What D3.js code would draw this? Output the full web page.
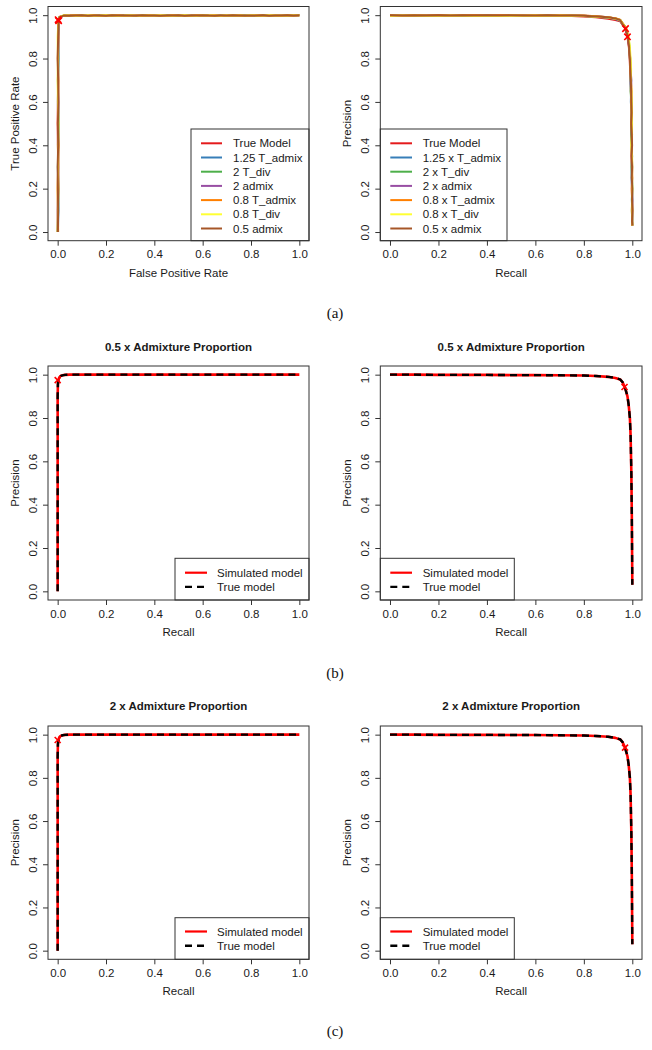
<!DOCTYPE html>
<html><head><meta charset="utf-8">
<script src="https://cdn.jsdelivr.net/npm/d3@7"></script>
<style>body{margin:0;background:#fff}svg{display:block}</style>
</head><body><svg id="c" width="652" height="1050"></svg>
<script>
// ---------------- DATA ----------------
const rocNames = ["True Model","1.25 T_admix","2 T_div","2 admix","0.8 T_admix","0.8 T_div","0.5 admix"];
const prNames  = ["True Model","1.25 x T_admix","2 x T_div","2 x admix","0.8 x T_admix","0.8 x T_div","0.5 x admix"];
const seriesColors = ["#E41A1C","#377EB8","#4DAF4A","#984EA3","#FF7F00","#FFFF33","#A65628"];
const tickValues = [0, 0.2, 0.4, 0.6, 0.8, 1.0];

// (a) left: ROC — steep rise at FPR~0 (TPR grid, FPR per series), then plateau (FPR grid, TPR per series)
const rocRiseTpr = [0, 0.1, 0.2, 0.3, 0.4, 0.5, 0.6, 0.7, 0.8, 0.9, 0.95, 0.975];
const rocRiseFpr = [
  [0.000,0.001,0.000,0.002,0.001,0.000,0.001,0.002,0.001,0.002,0.002,0.003],
  [0.001,0.003,0.002,0.001,0.003,0.002,0.001,0.002,0.003,0.002,0.003,0.004],
  [0.000,0.002,0.003,0.001,0.002,0.004,0.002,0.001,0.003,0.002,0.004,0.004],
  [0.001,0.000,0.002,0.003,0.001,0.002,0.003,0.001,0.002,0.003,0.003,0.005],
  [0.002,0.001,0.003,0.002,0.004,0.001,0.002,0.003,0.001,0.003,0.002,0.004],
  [0.000,0.001,0.000,0.002,0.001,0.003,0.001,0.000,0.001,0.000,0.002,0.003],
  [0.001,0.002,0.001,0.000,0.002,0.001,0.003,0.002,0.000,0.002,0.003,0.004]
];
const rocFlatFpr = [0.008,0.025,0.05,0.075,0.1,0.125,0.15,0.175,0.2,0.225,0.25,0.275,0.3,0.325,0.35,0.375,0.4,0.425,0.45,0.475,0.5,0.525,0.55,0.575,0.6,0.625,0.65,0.675,0.7,0.725,0.75,0.775,0.8,0.825,0.85,0.875,0.9,0.925,0.95,0.975,1.0];
const rocFlatTpr = [
  [0.990,0.998,0.999,0.997,1.000,0.998,0.999,0.997,1.000,0.998,0.999,1.000,0.997,0.999,0.998,1.000,0.998,0.997,0.999,1.000,0.998,0.999,0.997,1.000,0.998,0.999,0.997,0.999,1.000,0.998,0.997,0.999,1.000,0.998,0.999,0.997,1.000,0.999,0.998,0.999,1.000],
  [0.992,0.997,1.000,0.998,0.997,0.999,1.000,0.998,0.997,0.999,0.998,0.997,1.000,0.998,0.999,0.997,1.000,0.999,0.998,0.997,1.000,0.998,0.999,0.998,0.997,1.000,0.999,0.998,0.997,0.999,1.000,0.998,0.997,0.999,1.000,0.998,0.997,0.999,1.000,0.998,1.000],
  [0.991,0.999,0.997,1.000,0.998,0.997,0.999,1.000,0.998,0.997,1.000,0.999,0.998,0.997,1.000,0.999,0.997,0.998,1.000,0.999,0.997,1.000,0.998,0.999,1.000,0.997,0.998,1.000,0.999,0.997,0.998,1.000,0.999,0.997,0.998,1.000,0.999,0.997,0.998,1.000,1.000],
  [0.989,0.998,1.000,0.999,0.997,1.000,0.998,0.999,0.997,1.000,0.998,0.999,0.997,1.000,0.998,0.997,0.999,1.000,0.997,0.998,0.999,0.997,1.000,0.998,0.999,0.997,1.000,0.998,0.999,1.000,0.997,0.998,0.999,1.000,0.997,0.999,0.998,1.000,0.997,0.999,1.000],
  [0.993,0.997,0.999,1.000,0.997,0.998,1.000,0.997,0.999,0.998,1.000,0.997,0.999,0.998,0.997,1.000,0.998,0.999,0.997,1.000,0.999,0.998,0.997,1.000,0.999,0.998,1.000,0.997,0.998,0.999,1.000,0.997,0.998,1.000,0.999,0.998,0.999,0.997,1.000,0.998,1.000],
  [0.990,1.000,0.998,0.997,0.999,1.000,0.997,0.998,1.000,0.999,0.997,0.998,1.000,0.997,0.999,0.998,0.999,1.000,0.998,0.997,0.999,1.000,0.998,0.997,1.000,0.999,0.998,0.997,1.000,0.999,0.998,0.997,1.000,0.999,0.997,1.000,0.998,0.999,0.997,1.000,1.000],
  [0.991,0.998,0.997,0.999,1.000,0.997,0.998,0.999,0.997,1.000,0.999,0.998,0.999,0.997,1.000,0.998,0.999,0.997,0.999,0.998,1.000,0.997,0.999,0.998,1.000,0.998,0.997,0.999,0.998,1.000,0.999,0.997,0.998,0.999,1.000,0.997,0.999,0.998,1.000,0.999,1.000]
];
const rocMarkers = [[0.002, 0.979], [0.004, 0.974]];

// (a) right: PR — plateau (recall grid, precision per series), then steep drop (precision grid, recall per series)
const prHeadRecall = [0,0.05,0.1,0.15,0.2,0.25,0.3,0.35,0.4,0.45,0.5,0.55,0.6,0.65,0.7,0.75,0.8,0.85,0.9,0.93,0.95,0.96];
const prHeadPrecision = [
  [1.000,0.999,0.998,0.999,1.000,0.999,0.998,0.999,0.998,0.997,0.996,0.998,0.997,0.998,0.997,0.996,0.994,0.990,0.984,0.978,0.972,0.955],
  [1.000,1.000,0.999,1.000,0.999,1.000,0.999,1.000,0.999,1.000,0.999,0.999,1.000,0.999,0.998,0.998,0.996,0.993,0.988,0.982,0.974,0.958],
  [0.999,1.000,1.000,0.999,1.000,1.000,0.999,0.999,1.000,0.999,1.000,0.998,0.999,1.000,0.999,0.998,0.997,0.994,0.990,0.985,0.978,0.962],
  [1.000,0.999,1.000,1.000,0.999,1.000,1.000,0.999,1.000,1.000,0.999,1.000,0.999,0.999,1.000,0.998,0.997,0.995,0.990,0.984,0.976,0.960],
  [0.998,0.999,1.000,0.999,1.000,0.999,1.000,1.000,0.999,1.000,1.000,0.999,1.000,0.999,1.000,0.999,0.998,0.995,0.991,0.986,0.979,0.963],
  [0.997,0.998,0.999,0.997,0.996,0.998,0.997,0.996,0.997,0.996,0.998,0.997,0.998,0.997,0.998,0.997,0.996,0.993,0.989,0.984,0.977,0.960],
  [1.000,0.999,1.000,0.999,1.000,0.999,1.000,0.999,1.000,0.999,1.000,0.999,0.999,1.000,0.999,0.998,0.997,0.994,0.990,0.985,0.977,0.958]
];
const prTailPrecision = [0.94,0.90,0.85,0.80,0.75,0.70,0.65,0.60,0.55,0.50,0.45,0.40,0.35,0.30,0.25,0.20,0.15,0.10,0.05,0.03];
const prTailRecall = [
  [0.970,0.980,0.986,0.989,0.991,0.993,0.994,0.996,0.995,0.997,0.996,0.998,0.997,0.998,0.999,0.998,0.999,1.000,0.999,1.000],
  [0.972,0.982,0.988,0.991,0.993,0.992,0.995,0.994,0.997,0.996,0.998,0.997,0.999,0.998,0.997,0.999,1.000,0.999,1.000,1.000],
  [0.974,0.984,0.989,0.990,0.994,0.995,0.993,0.996,0.998,0.997,0.995,0.998,0.999,0.997,0.999,1.000,0.998,1.000,0.999,1.000],
  [0.973,0.983,0.987,0.992,0.993,0.996,0.995,0.997,0.996,0.998,0.997,0.999,0.998,1.000,0.998,0.999,1.000,0.998,1.000,1.000],
  [0.975,0.983,0.988,0.991,0.992,0.994,0.997,0.995,0.998,0.996,0.999,0.997,0.998,0.999,1.000,0.998,0.999,1.000,0.999,1.000],
  [0.974,0.985,0.990,0.993,0.995,0.994,0.996,0.998,0.997,0.999,0.998,0.996,0.999,1.000,0.998,1.000,0.999,0.998,1.000,1.000],
  [0.972,0.982,0.987,0.990,0.992,0.994,0.995,0.996,0.997,0.996,0.998,0.999,0.997,0.999,0.998,1.000,0.999,1.000,0.999,1.000]
];
const prMarkers = [[0.972, 0.938], [0.980, 0.900]];

// (b) 0.5 x Admixture Proportion
const halfLeftX   = [0, 0, 0, 0.001, 0.003, 0.007, 0.012, 0.02, 0.03, 0.05, 0.1, 0.2, 0.4, 0.6, 0.8, 1.0];
const halfLeftSim = [0, 0.5, 0.9, 0.955, 0.975, 0.988, 0.994, 0.997, 0.999, 1.0, 1.0, 1.0, 1.0, 1.0, 1.0, 1.0];
const halfLeftTrue= [0, 0.5, 0.9, 0.955, 0.975, 0.988, 0.994, 0.997, 0.999, 1.0, 1.0, 1.0, 1.0, 1.0, 1.0, 1.0];
const halfLeftMarker = [0.0, 0.975];
const halfRightX   = [0, 0.1, 0.2, 0.3, 0.4, 0.5, 0.6, 0.7, 0.8, 0.85, 0.9, 0.93, 0.95, 0.96, 0.97, 0.98, 0.985, 0.99, 0.993, 0.996, 0.998, 1.0];
const halfRightSim = [1.0, 1.0, 0.999, 0.999, 0.999, 0.998, 0.998, 0.997, 0.996, 0.994, 0.990, 0.985, 0.978, 0.965, 0.940, 0.900, 0.860, 0.800, 0.720, 0.550, 0.350, 0.030];
const halfRightTrue= [1.0, 1.0, 0.999, 0.999, 0.999, 0.998, 0.998, 0.997, 0.996, 0.994, 0.990, 0.985, 0.978, 0.965, 0.940, 0.900, 0.860, 0.800, 0.720, 0.550, 0.350, 0.030];
const halfRightMarker = [0.968, 0.943];

// (c) 2 x Admixture Proportion
const dblLeftX   = [0, 0, 0, 0.001, 0.003, 0.007, 0.012, 0.02, 0.03, 0.05, 0.1, 0.2, 0.4, 0.6, 0.8, 1.0];
const dblLeftSim = [0, 0.5, 0.9, 0.955, 0.975, 0.988, 0.994, 0.997, 0.999, 1.0, 1.0, 1.0, 1.0, 1.0, 1.0, 1.0];
const dblLeftTrue= [0, 0.5, 0.9, 0.955, 0.975, 0.988, 0.994, 0.997, 0.999, 1.0, 1.0, 1.0, 1.0, 1.0, 1.0, 1.0];
const dblLeftMarker = [0.0, 0.975];
const dblRightX   = [0, 0.1, 0.2, 0.3, 0.4, 0.5, 0.6, 0.7, 0.8, 0.85, 0.9, 0.93, 0.95, 0.96, 0.97, 0.98, 0.985, 0.99, 0.993, 0.996, 0.998, 1.0];
const dblRightSim = [1.0, 1.0, 0.999, 0.999, 0.999, 0.998, 0.998, 0.997, 0.996, 0.994, 0.990, 0.985, 0.978, 0.965, 0.940, 0.900, 0.860, 0.800, 0.720, 0.550, 0.350, 0.030];
const dblRightTrue= [1.0, 1.0, 0.999, 0.999, 0.999, 0.998, 0.998, 0.997, 0.996, 0.994, 0.990, 0.985, 0.978, 0.965, 0.940, 0.900, 0.860, 0.800, 0.720, 0.550, 0.350, 0.030];
const dblRightMarker = [0.970, 0.940];

const compareNames = ["Simulated model", "True model"];
const captions = ["(a)", "(b)", "(c)"];

// ---------------- DRAWING ----------------
const svg = d3.select("#c");
svg.append("rect").attr("width",652).attr("height",1050).attr("fill","#fff");
const FONT = "'Liberation Sans', Arial, sans-serif";
const FS = 11.5;
const INK = "#1a1a1a";

function makePanel(b, o) {
  const x = d3.scaleLinear().domain([-0.04, 1.04]).range([b.l, b.r]);
  const y = d3.scaleLinear().domain([-0.04, 1.04]).range([b.b, b.t]);
  const g = svg.append("g");
  // x axis
  const ax = g.append("g").attr("transform", `translate(0,${b.b})`)
    .call(d3.axisBottom(x).tickValues(tickValues).tickFormat(d3.format(".1f")).tickSize(5).tickPadding(4.4));
  ax.select(".domain").remove();
  ax.selectAll("line").attr("stroke", "#333");
  ax.selectAll("text").attr("font-family", FONT).attr("font-size", FS).attr("fill", INK);
  // y axis
  const ay = g.append("g").attr("transform", `translate(${b.l},0)`)
    .call(d3.axisLeft(y).tickValues(tickValues).tickFormat(d3.format(".1f")).tickSize(5));
  ay.select(".domain").remove();
  ay.selectAll("line").attr("stroke", "#333");
  ay.selectAll("text").attr("x", null).attr("dy", "0.35em").attr("text-anchor", "middle")
    .attr("transform", "translate(-15,0) rotate(-90)")
    .attr("font-family", FONT).attr("font-size", FS).attr("fill", INK);
  // titles
  g.append("text").attr("x", (b.l + b.r) / 2).attr("y", b.b + 32).attr("dy", "0.35em")
    .attr("text-anchor", "middle").attr("font-family", FONT).attr("font-size", FS).attr("fill", INK).text(o.xlab);
  g.append("text").attr("transform", `translate(${b.l - 33},${(b.t + b.b) / 2}) rotate(-90)`).attr("dy", "0.35em")
    .attr("text-anchor", "middle").attr("font-family", FONT).attr("font-size", FS).attr("fill", INK).text(o.ylab);
  if (o.title) {
    g.append("text").attr("x", (b.l + b.r) / 2).attr("y", o.titleY).attr("dy", "0.35em")
      .attr("text-anchor", "middle").attr("font-family", FONT).attr("font-size", FS).attr("font-weight", "bold")
      .attr("fill", INK).text(o.title);
  }
  const plot = g.append("g");
  return { x, y, g, plot, b };
}

function drawBox(p) {
  p.g.append("rect").attr("x", p.b.l).attr("y", p.b.t).attr("width", p.b.r - p.b.l).attr("height", p.b.b - p.b.t)
    .attr("fill", "none").attr("stroke", "#333").attr("stroke-width", 1);
}

function cross(p, pt, sz) {
  const cx = p.x(pt[0]), cy = p.y(pt[1]);
  p.plot.append("path").attr("d", `M${cx - sz},${cy - sz}L${cx + sz},${cy + sz}M${cx - sz},${cy + sz}L${cx + sz},${cy - sz}`)
    .attr("stroke", "#FF0000").attr("stroke-width", 1.6).attr("fill", "none");
}

function legend(p, rect, names, styles, rowY0, rowStep, sampleX0, sampleX1, textX) {
  const lg = p.g.append("g");
  lg.append("rect").attr("x", rect[0]).attr("y", rect[1]).attr("width", rect[2] - rect[0]).attr("height", rect[3] - rect[1])
    .attr("fill", "#fff").attr("stroke", "#333").attr("stroke-width", 1);
  names.forEach((n, i) => {
    const yy = rowY0 + i * rowStep;
    lg.append("line").attr("x1", sampleX0).attr("x2", sampleX1).attr("y1", yy).attr("y2", yy)
      .attr("stroke", styles[i].color).attr("stroke-width", styles[i].width)
      .attr("stroke-dasharray", styles[i].dash || null);
    lg.append("text").attr("x", textX).attr("y", yy).attr("dy", "0.35em")
      .attr("font-family", FONT).attr("font-size", FS).attr("fill", INK).text(n);
  });
}

const line = (p) => d3.line().x(d => p.x(d[0])).y(d => p.y(d[1]));

// ---- Panel (a) left: ROC
{
  const p = makePanel({ l: 48, t: 6.5, r: 309, b: 240.7 }, { xlab: "False Positive Rate", ylab: "True Positive Rate" });
  rocNames.forEach((n, i) => {
    const pts = rocRiseTpr.map((t, k) => [rocRiseFpr[i][k], t])
      .concat(rocFlatFpr.map((f, k) => [f, rocFlatTpr[i][k]]));
    p.plot.append("path").attr("d", line(p)(pts)).attr("fill", "none")
      .attr("stroke", seriesColors[i]).attr("stroke-width", 2).attr("stroke-linejoin", "round");
  });
  rocMarkers.forEach(m => cross(p, m, 3.2));
  legend(p, [191, 129, 309, 240.7], rocNames, seriesColors.map(c => ({ color: c, width: 2 })), 143.3, 14.2, 201, 222, 233);
  drawBox(p);
}
// ---- Panel (a) right: PR
{
  const p = makePanel({ l: 380.3, t: 6.5, r: 642, b: 240.7 }, { xlab: "Recall", ylab: "Precision" });
  prNames.forEach((n, i) => {
    const pts = prHeadRecall.map((r, k) => [r, prHeadPrecision[i][k]])
      .concat(prTailPrecision.map((pr, k) => [prTailRecall[i][k], pr]));
    p.plot.append("path").attr("d", line(p)(pts)).attr("fill", "none")
      .attr("stroke", seriesColors[i]).attr("stroke-width", 2).attr("stroke-linejoin", "round");
  });
  prMarkers.forEach(m => cross(p, m, 3.2));
  legend(p, [380.3, 129, 507, 240.7], prNames, seriesColors.map(c => ({ color: c, width: 2 })), 143.3, 14.2, 390.3, 412, 422.7);
  drawBox(p);
}

const cmpStyles = [{ color: "#FF0000", width: 2.2 }, { color: "#000", width: 2.4, dash: "7,5" }];

function comparePanel(b, title, titleY, xs, sim, tru, marker, legRect, rowY0, sx0, sx1, tx) {
  const p = makePanel(b, { xlab: "Recall", ylab: "Precision", title, titleY });
  p.plot.append("path").attr("d", line(p)(xs.map((v, k) => [v, sim[k]]))).attr("fill", "none")
    .attr("stroke", "#FF0000").attr("stroke-width", 2.6).attr("stroke-linejoin", "round");
  p.plot.append("path").attr("d", line(p)(xs.map((v, k) => [v, tru[k]]))).attr("fill", "none")
    .attr("stroke", "#000").attr("stroke-width", 2.4).attr("stroke-dasharray", "7,5");
  cross(p, marker, 3);
  legend(p, legRect, compareNames, cmpStyles, rowY0, 14.2, sx0, sx1, tx);
  drawBox(p);
}

comparePanel({ l: 48, t: 366, r: 309, b: 600 }, "0.5 x Admixture Proportion", 346.7,
  halfLeftX, halfLeftSim, halfLeftTrue, halfLeftMarker, [175, 558.3, 309, 600], 572.7, 185, 207, 217);
comparePanel({ l: 380.3, t: 366, r: 642, b: 600 }, "0.5 x Admixture Proportion", 346.7,
  halfRightX, halfRightSim, halfRightTrue, halfRightMarker, [380.3, 558.3, 514.3, 600], 572.7, 390.3, 412, 422.7);
comparePanel({ l: 48, t: 726, r: 309, b: 959.3 }, "2 x Admixture Proportion", 705.7,
  dblLeftX, dblLeftSim, dblLeftTrue, dblLeftMarker, [175, 917.7, 309, 959.3], 931.5, 185, 207, 217);
comparePanel({ l: 380.3, t: 726, r: 642, b: 959.3 }, "2 x Admixture Proportion", 705.7,
  dblRightX, dblRightSim, dblRightTrue, dblRightMarker, [380.3, 917.7, 514.3, 959.3], 931.5, 390.3, 412, 422.7);

// captions
[313, 673, 1031].forEach((yy, i) => {
  svg.append("text").attr("x", 335).attr("y", yy).attr("dy", "0.35em").attr("text-anchor", "middle")
    .attr("font-family", "'Liberation Serif', 'DejaVu Serif', serif").attr("font-size", 15).attr("fill", "#111")
    .text(captions[i]);
});
</script>
</body></html>
